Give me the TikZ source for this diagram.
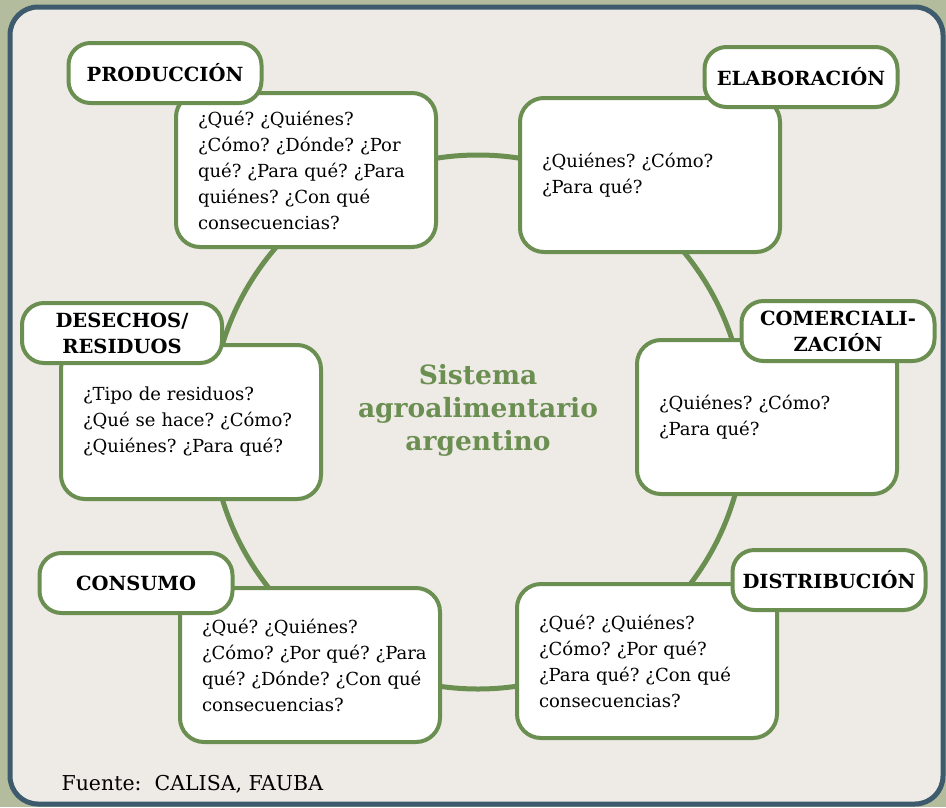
\documentclass[tikz,border=0pt]{standalone}
\usepackage{fontspec}
\setmainfont{DejaVu Serif}
\usetikzlibrary{positioning}
\frenchspacing

\definecolor{verde}{HTML}{6B8E51}
\definecolor{fondo}{HTML}{EEEBE6}
\definecolor{marco}{HTML}{3E5B6D}
\definecolor{oliva}{HTML}{B3BC9C}

\tikzset{
    qbox/.style={rectangle, draw=verde, line width=4pt, rounded corners=24pt, fill=white,
        minimum width=260pt, minimum height=154pt, text width=216pt, align=left,
        inner xsep=22pt, font=\fontsize{18}{26}\selectfont},
    lbox/.style={rectangle, draw=verde, line width=4pt, rounded corners=22pt, fill=white,
        minimum width=193pt, minimum height=60pt, align=center,
        font=\fontsize{19.5}{26}\selectfont\bfseries}
}

\begin{document}
\begin{tikzpicture}[x=1pt, y=-1pt]
    % panel and background
    \fill[oliva] (0,0) rectangle (946,807);
    \draw[marco, line width=5pt, fill=fondo, rounded corners=28pt] (10,7) rectangle (943,804);
    \useasboundingbox (0,0) rectangle (946,807);

    % ring
    \coordinate (centro) at (478,422);
    \draw[verde, line width=5pt] (centro) circle[radius=267pt];

    % question boxes
    \node[qbox] (qprod) at (306,170) {¿Qué? ¿Quiénes?\\¿Cómo? ¿Dónde? ¿Por\\qué? ¿Para qué? ¿Para\\quiénes? ¿Con qué\\consecuencias?};
    \node[qbox] (qelab) at (650,175) {¿Quiénes? ¿Cómo?\\¿Para qué?};
    \node[qbox] (qcom) at (767,417) {¿Quiénes? ¿Cómo?\\¿Para qué?};
    \node[qbox] (qdist) at (647,661) {¿Qué? ¿Quiénes?\\¿Cómo? ¿Por qué?\\¿Para qué? ¿Con qué\\consecuencias?};
    \node[qbox] (qcons) at (310,665) {¿Qué? ¿Quiénes?\\¿Cómo?~¿Por~qué?~¿Para\\qué?~¿Dónde?~¿Con~qué\\consecuencias?};
    \node[qbox] (qdes) at (191,422) {¿Tipo de residuos?\\¿Qué se hace? ¿Cómo?\\¿Quiénes? ¿Para qué?};

    % stage labels
    \node[lbox] (lprod) at (165,73) {PRODUCCIÓN};
    \node[lbox] (lelab) at (801,77) {ELABORACIÓN};
    \node[lbox] (lcom) at (838,331) {COMERCIALI-\\ZACIÓN};
    \node[lbox] (ldist) at (829,580) {DISTRIBUCIÓN};
    \node[lbox] (lcons) at (136,583) {CONSUMO};
    \node[lbox, minimum width=200pt] (ldes) at (122,333) {DESECHOS/\\RESIDUOS};

    % title and source
    \node[text=verde, align=center, font=\fontsize{26.5}{33}\selectfont\bfseries] (titulo) at (centro) [yshift=12pt]
        {Sistema\\agroalimentario\\argentino};
    \node[anchor=base west, font=\fontsize{20.5}{24}\selectfont] (fuente) at (58,790) {Fuente:\ \ CALISA, FAUBA};
\end{tikzpicture}
\end{document}
